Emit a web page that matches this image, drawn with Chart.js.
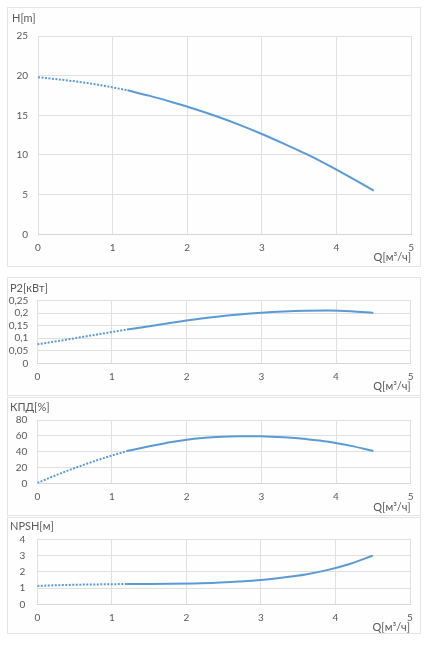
<!DOCTYPE html>
<html><head><meta charset="utf-8">
<script src="https://cdn.jsdelivr.net/npm/chart.js@4"></script>
<style>
html,body{margin:0;padding:0;background:#fff;width:427px;height:648px;overflow:hidden;font-family:Lato,"Liberation Sans",sans-serif;}
.panel{position:absolute;left:7px;width:414px;outline:1px solid #e4e4e4;outline-offset:-1px;background:#fefefe}
.panel canvas{position:absolute;left:0;top:0}
.ttl{position:absolute;left:5px;font-size:11px;line-height:13px;color:#595959;white-space:nowrap}
</style></head>
<body>
<div class="panel" id="p1" style="top:7px;height:260px"><canvas id="c1" width="414" height="260"></canvas><div class="ttl" style="top:4px">H[m]</div></div>
<div class="panel" id="p2" style="top:277px;height:119px"><canvas id="c2" width="414" height="119"></canvas><div class="ttl" style="top:4px;left:3px">P2[кВт]</div></div>
<div class="panel" id="p3" style="top:397px;height:119px"><canvas id="c3" width="414" height="119"></canvas><div class="ttl" style="top:3px;left:3px">КПД[%]</div></div>
<div class="panel" id="p4" style="top:517px;height:117px"><canvas id="c4" width="414" height="117"></canvas><div class="ttl" style="top:2px;left:3px">NPSH[м]</div></div>
<script>
// Flow rate points (м³/ч)
const qDotted = [0, 0.3, 0.6, 0.9, 1.2];
const qSolid = [1.2, 1.5, 1.8, 2.1, 2.4, 2.7, 3.0, 3.3, 3.6, 3.9, 4.2, 4.5];

// Head H [m]
const hDotted = [19.8, 19.5, 19.15, 18.7, 18.15];
const hSolid = [18.15, 17.45, 16.65, 15.8, 14.85, 13.8, 12.65, 11.4, 10.1, 8.65, 7.1, 5.5];

// Power P2 [кВт]
const pDotted = [0.076, 0.09, 0.105, 0.12, 0.135];
const pSolid = [0.135, 0.148, 0.162, 0.175, 0.186, 0.195, 0.202, 0.207, 0.21, 0.211, 0.208, 0.201];

// Efficiency КПД [%]
const eDotted = [1, 12.5, 23, 32.5, 41];
const eSolid = [41, 47, 52.5, 56.5, 58.8, 59.7, 59.5, 58.2, 56, 52.8, 47.5, 41];

// NPSH [м]
const nDotted = [1.13, 1.18, 1.21, 1.23, 1.25];
const nSolid = [1.25, 1.25, 1.26, 1.28, 1.32, 1.4, 1.5, 1.65, 1.84, 2.12, 2.5, 3.0];

// Tick labels
const xTickLabels = ['0', '1', '2', '3', '4', '5'];
const yTicksH = ['0', '5', '10', '15', '20', '25'];
const yTicksP = ['0', '0,05', '0,1', '0,15', '0,2', '0,25'];
const yTicksE = ['0', '20', '40', '60', '80'];
const yTicksN = ['0', '1', '2', '3', '4'];
const xTitle = 'Q[м³/ч]';

const LINE = '#5b9bd5';
const GRID = '#e0e0e0';
const TXT = '#595959';
const FONT = 'Lato, "Liberation Sans", sans-serif';

function pts(xs, ys) { return xs.map((x, i) => ({x: x, y: ys[i]})); }

function make(id, qd, yd, qs, ys, yMax, yStep, yLabels, L) {
  new Chart(document.getElementById(id), {
    type: 'scatter',
    data: {
      datasets: [
        {data: pts(qd, yd), showLine: true, borderColor: LINE, borderWidth: 2, borderDash: [2, 1.5], pointRadius: 0, cubicInterpolationMode: 'monotone', borderCapStyle: 'butt'},
        {data: pts(qs, ys), showLine: true, borderColor: LINE, borderWidth: 2, pointRadius: 0, cubicInterpolationMode: 'monotone'}
      ]
    },
    options: {
      responsive: false, animation: false, events: [],
      layout: {padding: {left: 0, top: L.top, right: L.right, bottom: L.bottom}},
      plugins: {legend: {display: false}, tooltip: {enabled: false}},
      scales: {
        x: {
          type: 'linear', min: 0, max: 5,
          ticks: {stepSize: 1, color: TXT, font: {family: FONT, size: 10}, padding: 7, maxRotation: 0, autoSkip: false,
                  callback: (v, i) => xTickLabels[i]},
          grid: {color: GRID, drawTicks: false},
          border: {color: '#d6d6d6'},
          title: {display: true, text: xTitle, align: 'end', color: TXT, font: {family: FONT, size: 11}, padding: 0},
          afterFit: s => { s.height = L.xh; }
        },
        y: {
          min: 0, max: yMax,
          ticks: {stepSize: yStep, color: TXT, font: {family: FONT, size: L.yf || 10}, padding: L.yp, autoSkip: false,
                  callback: (v, i) => yLabels[i]},
          grid: {color: GRID, drawTicks: false},
          border: {display: false},
          afterFit: s => { s.width = L.yw; }
        }
      }
    }
  });
}

make('c1', qDotted, hDotted, qSolid, hSolid, 25, 5, yTicksH, {top: 29, right: 9.3, bottom: 2.7, xh: 30, yw: 31, yp: 10});
make('c2', qDotted, pDotted, qSolid, pSolid, 0.25, 0.05, yTicksP, {top: 23.7, right: 10.3, bottom: 2.7, xh: 30, yw: 30.3, yp: 9, yf: 10});
make('c3', qDotted, eDotted, qSolid, eSolid, 80, 20, yTicksE, {top: 23, right: 10.3, bottom: 2.3, xh: 30, yw: 30.3, yp: 10});
make('c4', qDotted, nDotted, qSolid, nSolid, 4, 1, yTicksN, {top: 22.3, right: 11, bottom: 0, xh: 29.7, yw: 30.3, yp: 12});
</script>
</body></html>
